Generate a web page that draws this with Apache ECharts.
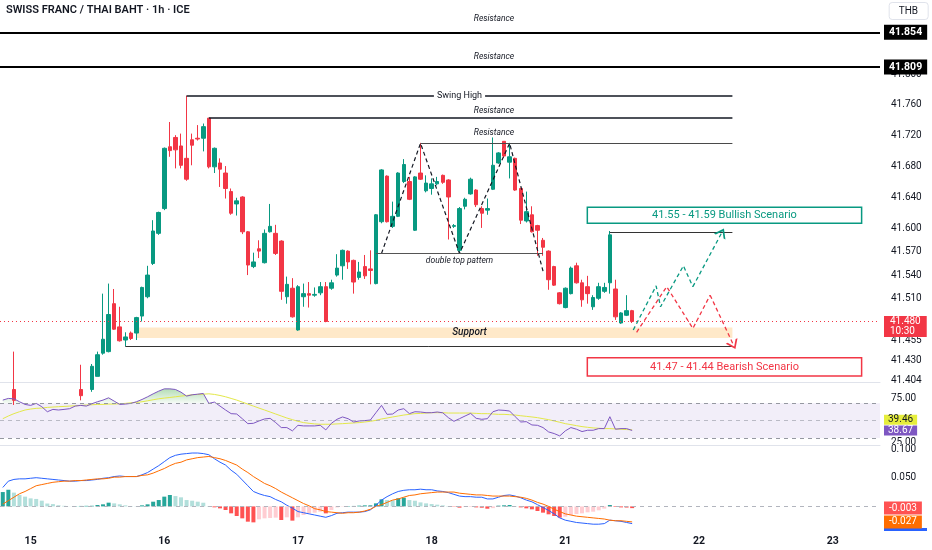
<!DOCTYPE html>
<html><head><meta charset="utf-8">
<script src="https://cdn.jsdelivr.net/npm/echarts@6/dist/echarts.min.js"></script>
<style>html,body{margin:0;padding:0;background:#fff}#c{width:932px;height:550px}</style>
</head><body><div id="c"></div>
<script>
// ---------- data (hour index 0 = day 15 00:00) ----------
const FIRST_HOUR = -5;
const LAST_HOUR = 152;
const DAY_HOURS = [0, 24, 48, 72, 96, 120, 144];
const DAY_LABELS = ['15', '16', '17', '18', '21', '22', '23'];
const PRICE_TICKS = [41.404, 41.430, 41.455, 41.510, 41.540, 41.570, 41.600, 41.640, 41.680, 41.720, 41.760, 41.800, 41.850];
const RSI_TICKS = [25, 75];
const MACD_TICKS = [0.05, 0.1];
const TITLE = 'SWISS FRANC / THAI BAHT · 1h · ICE';
const CURRENCY = 'THB';
const LAST_TIME = '10:30';

const OPEN = [41.372,41.380,41.392,41.378,41.384,
41.381,41.386,41.390,41.383,41.376,41.381,41.379,41.383,41.381,41.392,
41.384,41.392,41.409,41.439,41.441,41.503,41.473,41.456,41.465,41.465,
41.487,41.512,41.555,41.594,41.626,41.706,41.718,41.707,41.691,41.715,
41.717,41.717,41.743,41.680,41.685,41.672,41.648,41.632,41.641,41.596,
41.551,41.574,41.556,41.596,41.594,41.584,41.512,41.523,41.469,41.512,
41.516,41.514,41.517,41.525,41.523,41.540,41.552,41.571,41.559,41.537,
41.551,41.548,41.529,41.609,41.668,41.603,41.616,41.661,41.661,41.598,
41.672,41.649,41.652,41.658,41.669,41.663,41.603,41.572,41.629,41.645,
41.650,41.626,41.624,41.651,41.685,41.713,41.686,41.691,41.652,41.610,
41.618,41.604,41.585,41.571,41.551,41.517,41.498,41.516,41.552,41.530,
41.525,41.499,41.510,41.519,41.530,41.522,41.478,41.488,41.494];
const CLOSE = [41.380,41.388,41.378,41.384,41.381,
41.386,41.390,41.383,41.376,41.381,41.379,41.383,41.381,41.385,41.384,
41.392,41.422,41.437,41.457,41.489,41.470,41.455,41.460,41.458,41.485,
41.524,41.540,41.597,41.621,41.704,41.701,41.702,41.682,41.664,41.708,
41.716,41.732,41.680,41.704,41.677,41.652,41.620,41.636,41.596,41.553,
41.557,41.571,41.594,41.603,41.568,41.519,41.528,41.486,41.525,41.516,
41.514,41.515,41.525,41.480,41.530,41.549,41.572,41.557,41.531,41.544,
41.539,41.546,41.618,41.676,41.609,41.616,41.672,41.683,41.638,41.667,
41.664,41.659,41.658,41.661,41.660,41.641,41.604,41.626,41.638,41.664,
41.631,41.620,41.626,41.682,41.698,41.694,41.693,41.650,41.611,41.622,
41.596,41.598,41.576,41.534,41.527,41.503,41.523,41.549,41.530,41.508,
41.516,41.511,41.525,41.524,41.592,41.486,41.491,41.494,41.480];
const LOW = [41.366,41.374,41.372,41.370,41.374,
41.376,41.379,41.377,41.368,41.371,41.372,41.374,41.375,41.376,41.378,
41.380,41.389,41.409,41.437,41.440,41.469,41.454,41.448,41.456,41.456,
41.480,41.510,41.553,41.592,41.624,41.693,41.678,41.678,41.662,41.682,
41.714,41.700,41.678,41.672,41.654,41.639,41.618,41.617,41.593,41.540,
41.549,41.562,41.555,41.595,41.566,41.508,41.503,41.485,41.468,41.499,
41.498,41.512,41.514,41.479,41.521,41.538,41.534,41.548,41.516,41.534,
41.535,41.528,41.528,41.607,41.608,41.601,41.615,41.659,41.637,41.597,
41.663,41.647,41.644,41.656,41.658,41.586,41.601,41.568,41.625,41.644,
41.628,41.601,41.618,41.650,41.684,41.692,41.665,41.649,41.606,41.608,
41.595,41.565,41.565,41.521,41.526,41.502,41.497,41.515,41.529,41.499,
41.503,41.495,41.508,41.517,41.516,41.482,41.477,41.487,41.478];
const HIGH = [41.386,41.395,41.441,41.390,41.392,
41.393,41.396,41.395,41.388,41.387,41.386,41.389,41.388,41.392,41.424,
41.398,41.425,41.441,41.516,41.529,41.522,41.499,41.466,41.467,41.486,
41.525,41.552,41.611,41.622,41.705,41.738,41.721,41.723,41.772,41.723,
41.734,41.736,41.743,41.705,41.691,41.681,41.652,41.640,41.642,41.597,
41.569,41.585,41.599,41.632,41.605,41.585,41.538,41.536,41.527,41.529,
41.531,41.524,41.531,41.531,41.534,41.567,41.573,41.572,41.560,41.557,
41.566,41.572,41.619,41.677,41.669,41.635,41.673,41.690,41.667,41.668,
41.711,41.669,41.665,41.667,41.670,41.664,41.606,41.628,41.640,41.666,
41.651,41.629,41.639,41.718,41.699,41.713,41.711,41.692,41.653,41.648,
41.629,41.605,41.588,41.572,41.552,41.518,41.524,41.551,41.556,41.534,
41.539,41.514,41.530,41.530,41.597,41.534,41.492,41.514,41.495];

const RSI = [73.6,75.5,75.1,71.7,68.6,
67.5,69.8,66.0,60.2,62.9,62.2,62.9,63.7,66.7,67.5,
66.7,69.4,71.7,73.6,76.2,72.4,68.6,69.0,69.8,71.7,
74.3,77.4,80.8,83.9,86.5,86.5,85.8,82.7,78.2,79.7,
80.4,81.2,69.8,71.3,66.7,62.2,58.0,57.6,52.2,46.5,
46.9,49.6,51.9,52.6,47.7,42.0,42.0,38.2,44.6,43.9,
43.9,43.9,44.6,39.3,46.9,51.5,54.2,52.2,48.4,49.6,
50.0,50.7,59.1,67.5,57.2,57.6,62.2,63.7,58.0,60.2,
59.9,59.1,59.1,59.9,59.0,53.4,49.2,52.2,55.3,58.3,
52.6,51.5,52.2,60.2,62.2,61.8,61.0,54.5,48.4,48.8,
45.0,44.6,42.0,37.0,35.1,32.4,38.2,42.0,40.1,37.4,
38.9,38.9,40.8,40.8,54.5,40.1,40.8,40.8,38.67];
const RSI_MA = [52.2,55.3,58.0,60.2,62.2,
63.3,64.1,64.4,65.2,65.6,66.0,66.3,66.7,67.1,67.5,
67.9,68.2,68.6,68.6,69.0,69.0,69.4,69.8,70.5,70.9,
71.7,72.8,74.0,75.1,75.9,76.6,77.4,78.2,78.9,79.7,
80.1,80.4,80.8,80.1,78.9,77.4,75.5,73.6,71.3,69.0,
66.7,64.4,62.2,59.9,57.6,55.3,53.0,51.1,49.2,47.7,
46.9,46.2,45.8,45.8,45.8,46.2,46.5,46.9,47.3,47.7,
48.4,49.2,50.3,51.9,53.0,54.2,55.3,56.4,57.2,58.0,
58.3,58.7,59.1,59.1,59.1,58.7,58.7,58.7,58.7,58.7,
58.3,58.0,58.0,57.6,57.2,57.2,56.8,56.4,55.6,54.9,
54.2,53.4,52.2,51.1,49.6,48.1,46.5,45.4,44.2,43.1,
42.3,41.6,41.2,40.8,40.8,40.4,40.1,39.7,39.46];

const MACD = [0.033,0.044,0.047,0.048,0.048,
0.049,0.050,0.049,0.048,0.047,0.046,0.045,0.044,0.044,0.045,
0.045,0.046,0.047,0.049,0.050,0.052,0.053,0.052,0.052,0.052,
0.055,0.059,0.065,0.071,0.078,0.085,0.089,0.091,0.092,0.093,
0.093,0.092,0.090,0.083,0.077,0.072,0.063,0.056,0.046,0.036,
0.026,0.022,0.019,0.017,0.012,0.008,0.002,-0.003,-0.009,-0.011,
-0.013,-0.015,-0.017,-0.019,-0.016,-0.012,-0.011,-0.010,-0.010,-0.010,
-0.009,-0.006,0.002,0.011,0.017,0.022,0.026,0.028,0.029,0.029,
0.030,0.029,0.029,0.027,0.026,0.024,0.021,0.018,0.017,0.017,
0.016,0.016,0.013,0.013,0.016,0.019,0.020,0.018,0.015,0.011,
0.008,0.003,-0.002,-0.007,-0.013,-0.020,-0.024,-0.026,-0.028,-0.029,
-0.030,-0.031,-0.031,-0.030,-0.024,-0.025,-0.026,-0.028,-0.030];
const SIGNAL = [0.004,0.010,0.016,0.022,0.026,
0.031,0.036,0.038,0.040,0.042,0.043,0.044,0.044,0.045,0.045,
0.046,0.047,0.048,0.048,0.049,0.051,0.051,0.052,0.052,0.052,
0.054,0.055,0.058,0.062,0.066,0.071,0.075,0.077,0.081,0.083,
0.085,0.086,0.087,0.085,0.083,0.080,0.076,0.072,0.065,0.059,
0.052,0.046,0.040,0.036,0.031,0.025,0.020,0.015,0.010,0.005,
0.001,-0.004,-0.006,-0.009,-0.010,-0.011,-0.012,-0.011,-0.011,-0.010,
-0.008,-0.005,0.000,0.003,0.007,0.011,0.013,0.016,0.019,0.020,
0.022,0.023,0.024,0.025,0.025,0.025,0.025,0.023,0.022,0.021,
0.020,0.020,0.019,0.018,0.018,0.018,0.018,0.017,0.016,0.014,
0.011,0.007,0.004,0.000,-0.005,-0.009,-0.013,-0.015,-0.017,-0.018,
-0.019,-0.020,-0.021,-0.022,-0.024,-0.025,-0.025,-0.026,-0.027];
const HIST = [0.025,0.029,0.024,0.020,0.017,
0.014,0.013,0.010,0.005,0.004,0.002,0.001,0.0002,0.0006,0.0008,
0.0010,0.0011,0.0024,0.0036,0.0065,0.0053,0.0036,0.0018,0.0007,0.0004,
0.0018,0.0036,0.0082,0.0111,0.017,0.0199,0.018,0.0158,0.0111,0.0099,
0.0082,0.0064,0.0007,-0.0016,-0.0034,-0.0063,-0.0121,-0.0167,-0.0208,-0.0266,
-0.0278,-0.0225,-0.0208,-0.0202,-0.0196,-0.0237,-0.019,-0.0248,-0.019,-0.015,
-0.0121,-0.011,-0.0092,-0.0121,-0.0063,-0.0017,-0.0005,0.0007,0.0008,0.0013,
0.0018,0.0019,0.0053,0.0123,0.0111,0.0105,0.0141,0.0151,0.0111,0.0099,
0.007,0.0053,0.0041,0.003,0.0018,0.0007,-0.0005,-0.0022,-0.001,-0.001,
-0.0017,-0.0023,-0.004,-0.003,0.0013,0.0019,0.0024,0.0007,-0.0017,-0.0034,
-0.0051,-0.008,-0.0109,-0.0138,-0.0167,-0.0196,-0.0179,-0.015,-0.0132,-0.0121,
-0.0103,-0.0092,-0.0068,-0.0039,0.0024,-0.001,-0.0017,-0.002,-0.003];

// drawings (hour, price)
const RES_FULL = [41.854, 41.809];
const SWING_HIGH = {from: 28, to: 126, price: 41.772};
const RES_A = {from: 32, to: 126, price: 41.743};
const RES_B = {from: 70, to: 126, price: 41.7105};
const NECK = {from: 62, to: 92, price: 41.568};
const SUPPORT_LINE = {from: 17, to: 126, price: 41.448};
const SCEN_HIGH = {from: 104, to: 126, price: 41.596};
const SUPPORT_ZONE = {from: 19, to: 126, top: 41.4723, bottom: 41.4586};
const BULL_BOX = {from: 99.95, to: 149.2, top: 41.6277, bottom: 41.607, text: '41.55 - 41.59 Bullish Scenario'};
const BEAR_BOX = {from: 99.95, to: 149.2, top: 41.4331, bottom: 41.4094, text: '41.47 - 41.44 Bearish Scenario'};
const DT_H = [63, 70, 77, 86, 92];
const DT_P = [41.568, 41.7105, 41.568, 41.7105, 41.545];
const BULL_H = [108.2, 112.3, 113.1, 117.2, 118.9, 124.1];
const BULL_P = [41.469, 41.526, 41.499, 41.552, 41.525, 41.595];
const BEAR_H = [108.8, 114.2, 118.9, 122.0, 126.2];
const BEAR_P = [41.466, 41.525, 41.471, 41.514, 41.4495];
const RES_LABEL_HOUR = 83.2;
const SUPPORT_LABEL = {hour: 78.8, price: 41.466};

// ---------- chart ----------
const GREEN = '#089981', RED = '#F23645';
const HIDDEN = {color: 'rgba(0,0,0,0)', width: 1};
const cats = [];
for (let h = FIRST_HOUR; h <= LAST_HOUR; h++) cats.push(String(h));
const candles = OPEN.map((o, i) => [o, CLOSE[i], LOW[i], HIGH[i]]);
const pts = (H, P) => H.map((h, i) => [h, P[i]]);
const seg = (s, style, label) => [
  {coord: [s.from, s.price], lineStyle: style, label: label || {show: false}},
  {coord: [s.to, s.price]}
];
const CHEVRON = 'path://M0,10 L5,0 L10,10 L8.4,10 L5,3.2 L1.6,10 Z';
const lastOf = a => a[a.length - 1];
const histColor = i => {
  const v = HIST[i], p = i > 0 ? HIST[i - 1] : -Infinity;
  if (v >= 0) return v > p ? '#26A69A' : '#B2DFDB';
  return v < p || i === 0 ? '#FF5252' : '#FFCDD2';
};
const tag = (bg, fg, digits, extra) => Object.assign({
  show: true, position: 'end', distance: 4, backgroundColor: bg, color: fg,
  fontSize: 10, padding: [1, 4], lineHeight: 11,
  formatter: p => p.value.toFixed(digits)
}, extra || {});
const resLabel = (price, dy) => ({
  coord: [RES_LABEL_HOUR, price], symbol: 'circle', symbolSize: 1,
  itemStyle: {color: 'rgba(0,0,0,0)'},
  label: {show: true, position: 'inside', offset: [0, dy], formatter: 'Resistance',
    fontSize: 8.5, fontStyle: 'italic', color: '#131722'}
});

const chart = echarts.init(document.getElementById('c'), null, {renderer: 'canvas'});
const option = {
  animation: false,
  backgroundColor: '#ffffff',
  textStyle: {fontFamily: 'Roboto, "Noto Sans", sans-serif'},
  title: [
    {text: TITLE, left: 2, top: 2, padding: [3, 4],
      textStyle: {fontSize: 11, fontWeight: 600, color: '#131722'}},
    {text: CURRENCY, right: 4, top: 2, padding: [4, 10], borderColor: '#e0e3eb', borderWidth: 1, borderRadius: 3,
      textStyle: {fontSize: 10, fontWeight: 'normal', color: '#131722'}}
  ],
  grid: [
    {left: 0, top: 0, width: 880, height: 382},
    {left: 0, top: 382, width: 880, height: 63},
    {left: 0, top: 445, width: 880, height: 86}
  ],
  xAxis: [
    {type: 'category', gridIndex: 0, data: cats, boundaryGap: true,
      axisLine: {show: true, onZero: false, lineStyle: {color: '#e0e3eb'}},
      axisTick: {show: false}, axisLabel: {show: false}, splitLine: {show: false}},
    {type: 'value', gridIndex: 0, position: 'top', min: FIRST_HOUR - 0.5, max: LAST_HOUR + 0.5, show: false},
    {type: 'category', gridIndex: 1, data: cats, boundaryGap: true,
      axisLine: {show: true, onZero: false, lineStyle: {color: '#e0e3eb'}},
      axisTick: {show: false}, axisLabel: {show: false}, splitLine: {show: false}},
    {type: 'category', gridIndex: 2, data: cats, boundaryGap: true,
      axisLine: {show: false, onZero: false}, axisTick: {show: false}, splitLine: {show: false},
      axisLabel: {show: true, margin: 5, fontSize: 10.5, fontWeight: 'bold', color: '#131722',
        interval: (i, v) => DAY_HOURS.indexOf(+v) >= 0,
        formatter: v => { const k = DAY_HOURS.indexOf(+v); return k >= 0 ? DAY_LABELS[k] : ''; }}}
  ],
  yAxis: [
    {type: 'value', gridIndex: 0, position: 'right', min: 41.4017, max: 41.8958,
      splitLine: {show: false}, axisLine: {show: false}, axisTick: {show: false},
      axisLabel: {customValues: PRICE_TICKS, formatter: v => v.toFixed(3), fontSize: 10, color: '#131722', margin: 11}},
    {type: 'value', gridIndex: 1, position: 'right', min: 21.95, max: 94.4,
      splitLine: {show: false}, axisLine: {show: false}, axisTick: {show: false},
      axisLabel: {customValues: RSI_TICKS, formatter: v => v.toFixed(2), fontSize: 10, color: '#131722', margin: 11}},
    {type: 'value', gridIndex: 2, position: 'right', min: -0.04286, max: 0.10697,
      splitLine: {show: false}, axisLine: {show: false}, axisTick: {show: false},
      axisLabel: {customValues: MACD_TICKS, formatter: v => v.toFixed(3), fontSize: 10, color: '#131722', margin: 11,
        backgroundColor: '#fff'}}
  ],
  series: [
    // annotation host: double top zigzag + horizontal drawings + zones
    {type: 'line', xAxisIndex: 1, yAxisIndex: 0, data: pts(DT_H, DT_P), symbol: 'none', z: 4, silent: true,
      lineStyle: {color: '#131722', width: 1.2, type: [4, 3]},
      markLine: {symbol: 'none', silent: true, precision: 5, label: {show: false}, data: [
        seg(SWING_HIGH, {color: '#131722', width: 1.5, type: 'solid'},
          {show: true, position: 'middle', distance: 0, verticalAlign: 'middle', formatter: 'Swing High',
            backgroundColor: '#fff', padding: [1, 3], fontSize: 9, color: '#131722'}),
        seg(RES_A, {color: '#131722', width: 1.5, type: 'solid'}),
        seg(RES_B, {color: '#4a4a4a', width: 1, type: 'solid'}),
        seg(NECK, {color: '#555', width: 1, type: 'solid'},
          {show: true, position: 'insideMiddleBottom', formatter: 'double top pattern', distance: 3,
            fontSize: 8.5, fontStyle: 'italic', color: '#131722'}),
        seg(SUPPORT_LINE, {color: '#333', width: 1, type: 'solid'}),
        seg(SCEN_HIGH, {color: '#333', width: 1, type: 'solid'})
      ]},
      markArea: {silent: true, data: [
        [{coord: [SUPPORT_ZONE.from, SUPPORT_ZONE.top], itemStyle: {color: 'rgba(255,183,77,0.3)'}, label: {show: false}},
         {coord: [SUPPORT_ZONE.to, SUPPORT_ZONE.bottom]}],
        [{coord: [BULL_BOX.from, BULL_BOX.top], name: BULL_BOX.text,
          itemStyle: {color: 'rgba(255,255,255,0)', borderColor: GREEN, borderWidth: 1.5},
          label: {show: true, position: 'inside', color: GREEN, fontSize: 11}},
         {coord: [BULL_BOX.to, BULL_BOX.bottom]}],
        [{coord: [BEAR_BOX.from, BEAR_BOX.top], name: BEAR_BOX.text,
          itemStyle: {color: 'rgba(255,255,255,0)', borderColor: RED, borderWidth: 1.5},
          label: {show: true, position: 'inside', color: RED, fontSize: 11}},
         {coord: [BEAR_BOX.to, BEAR_BOX.bottom]}]
      ]},
      markPoint: {silent: true, data: [
        resLabel(RES_FULL[0], -13), resLabel(RES_FULL[1], -10), resLabel(RES_A.price, -7), resLabel(RES_B.price, -10),
        {coord: [SUPPORT_LABEL.hour, SUPPORT_LABEL.price], symbol: 'circle', symbolSize: 1,
          itemStyle: {color: 'rgba(0,0,0,0)'},
          label: {show: true, position: 'inside', formatter: 'Support', fontSize: 10, fontStyle: 'italic',
            fontWeight: 500, color: '#131722'}}
      ]}
    },
    // candles
    {type: 'candlestick', xAxisIndex: 0, yAxisIndex: 0, data: candles, barWidth: 4, z: 3,
      itemStyle: {color: GREEN, color0: RED, borderColor: GREEN, borderColor0: RED, borderWidth: 1},
      markLine: {symbol: 'none', silent: true, precision: 5, label: {show: false}, data: [
        {yAxis: RES_FULL[0], lineStyle: {color: '#000', width: 2, type: 'solid'},
          label: tag('#000', '#fff', 3, {fontWeight: 'bold', fontSize: 10.5, padding: [2, 5]})},
        {yAxis: RES_FULL[1], lineStyle: {color: '#000', width: 2, type: 'solid'},
          label: tag('#000', '#fff', 3, {fontWeight: 'bold', fontSize: 10.5, padding: [2, 5]})},
        {yAxis: lastOf(CLOSE), lineStyle: {color: RED, width: 1, type: [1, 3]},
          label: tag(RED, '#fff', 3, {formatter: p => p.value.toFixed(3) + '\n' + LAST_TIME,
            lineHeight: 9.5, padding: [1, 6], offset: [0, 5]})}
      ]}
    },
    // bullish path
    {type: 'line', xAxisIndex: 1, yAxisIndex: 0, data: pts(BULL_H.slice(0, -1), BULL_P.slice(0, -1)),
      symbol: 'none', z: 4, silent: true, lineStyle: {color: GREEN, width: 1.3, type: [4, 3]},
      markLine: {silent: true, symbol: ['none', CHEVRON], symbolSize: [13, 9], label: {show: false},
        lineStyle: {color: GREEN, width: 1.3, type: [4, 3]},
        data: [[{coord: [BULL_H[4], BULL_P[4]]}, {coord: [BULL_H[5], BULL_P[5]]}]]}},
    // bearish path
    {type: 'line', xAxisIndex: 1, yAxisIndex: 0, data: pts(BEAR_H.slice(0, -1), BEAR_P.slice(0, -1)),
      symbol: 'none', z: 4, silent: true, lineStyle: {color: RED, width: 1.3, type: [4, 3]},
      markLine: {silent: true, symbol: ['none', CHEVRON], symbolSize: [13, 9], label: {show: false},
        lineStyle: {color: RED, width: 1.3, type: [4, 3]},
        data: [[{coord: [BEAR_H[3], BEAR_P[3]]}, {coord: [BEAR_H[4], BEAR_P[4]]}]]}},
    // RSI overbought fill (stacked above 70)
    {type: 'line', xAxisIndex: 2, yAxisIndex: 1, stack: 'ob', data: RSI.map(() => 70), symbol: 'none',
      lineStyle: {width: 0, opacity: 0}, silent: true, z: 2},
    {type: 'line', xAxisIndex: 2, yAxisIndex: 1, stack: 'ob', data: RSI.map(v => Math.max(v - 70, 0)), symbol: 'none',
      lineStyle: {width: 0, opacity: 0}, silent: true, z: 2,
      areaStyle: {color: {type: 'linear', x: 0, y: 0, x2: 0, y2: 1,
        colorStops: [{offset: 0, color: 'rgba(76,175,80,0.6)'}, {offset: 1, color: 'rgba(76,175,80,0.08)'}]}}},
    // RSI MA
    {type: 'line', xAxisIndex: 2, yAxisIndex: 1, data: RSI_MA, symbol: 'none', z: 3, silent: true,
      lineStyle: {color: '#e3e84a', width: 1},
      markLine: {symbol: 'none', silent: true, precision: 5, data: [
        {yAxis: lastOf(RSI_MA), lineStyle: HIDDEN,
          label: tag('#e6ee3c', '#131722', 2, {padding: [0, 4], lineHeight: 10, offset: [0, -10]})}
      ]}},
    // RSI
    {type: 'line', xAxisIndex: 2, yAxisIndex: 1, data: RSI, symbol: 'none', z: 4, silent: true,
      lineStyle: {color: '#7E57C2', width: 1},
      markArea: {silent: true, itemStyle: {color: 'rgba(126,87,194,0.1)'}, data: [[{yAxis: 70}, {yAxis: 30}]]},
      markLine: {symbol: 'none', silent: true, precision: 5, label: {show: false}, data: [
        {yAxis: 70, lineStyle: {color: '#9598a1', width: 1, type: [4, 4]}},
        {yAxis: 50, lineStyle: {color: 'rgba(149,152,161,0.6)', width: 1, type: [4, 4]}},
        {yAxis: 30, lineStyle: {color: '#9598a1', width: 1, type: [4, 4]}},
        {yAxis: lastOf(RSI), lineStyle: HIDDEN,
          label: tag('#7E57C2', '#fff', 2, {padding: [0, 4], lineHeight: 10})}
      ]}},
    // MACD histogram
    {type: 'bar', xAxisIndex: 3, yAxisIndex: 2, data: HIST, barWidth: 4, silent: true, z: 2,
      itemStyle: {color: p => histColor(p.dataIndex)},
      markLine: {symbol: 'none', silent: true, precision: 5, label: {show: false}, data: [
        {yAxis: 0, lineStyle: {color: '#b2b5be', width: 1, type: [4, 4]}},
        {yAxis: lastOf(HIST), lineStyle: HIDDEN,
          label: tag('#FF5252', '#fff', 3, {padding: [1, 5]})}
      ]}},
    // MACD line
    {type: 'line', xAxisIndex: 3, yAxisIndex: 2, data: MACD, symbol: 'none', z: 3, silent: true,
      lineStyle: {color: '#2962FF', width: 1},
      markLine: {symbol: 'none', silent: true, precision: 5, data: [
        {yAxis: lastOf(MACD), lineStyle: HIDDEN,
          label: {show: true, position: 'end', distance: 4, formatter: ' ', backgroundColor: '#2962FF',
            width: 35, height: 3, padding: [0, 4], fontSize: 2, lineHeight: 3, offset: [0, 6]}}
      ]}},
    // Signal line
    {type: 'line', xAxisIndex: 3, yAxisIndex: 2, data: SIGNAL, symbol: 'none', z: 3, silent: true,
      lineStyle: {color: '#FF6D00', width: 1},
      markLine: {symbol: 'none', silent: true, precision: 5, data: [
        {yAxis: lastOf(SIGNAL), lineStyle: HIDDEN,
          label: tag('#FF6D00', '#fff', 3, {padding: [1, 5]})}
      ]}}
  ]
};
chart.setOption(option);
</script>
</body></html>
